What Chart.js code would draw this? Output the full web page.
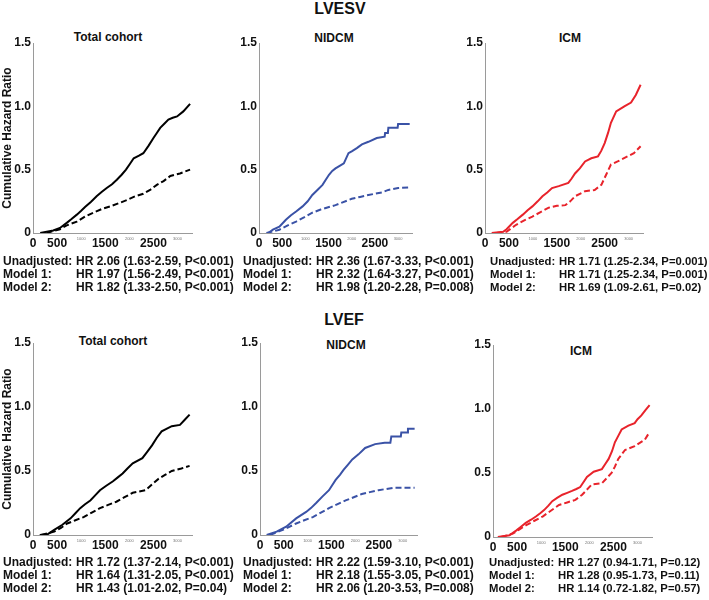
<!DOCTYPE html>
<html>
<head>
<meta charset="utf-8">
<script src="https://cdn.jsdelivr.net/npm/chart.js@4.4.0/dist/chart.umd.min.js"></script>
<style>
body { margin:0; background:#fff; width:709px; height:600px; position:relative; overflow:hidden;
       font-family:"Liberation Sans", Arial, sans-serif; font-weight:bold; color:#111; }
canvas { position:absolute; }
.head { position:absolute; font-size:16px; line-height:18px; width:120px; text-align:center; }
.sub { position:absolute; font-size:12px; line-height:14px; width:120px; text-align:center; }
.stats { position:absolute; font-size:12px; line-height:13px; white-space:nowrap; }
.stats span { display:inline-block; width:73px; }
.stats.narrow { font-size:11.3px; }
.stats.narrow span { width:69px; }
</style>
</head>
<body>
<div class="head" style="left:280px;top:0px">LVESV</div>
<div class="head" style="left:284px;top:311px">LVEF</div>

<div class="sub" style="left:48px;top:30px">Total cohort</div>
<div class="sub" style="left:274px;top:31px">NIDCM</div>
<div class="sub" style="left:510px;top:31px">ICM</div>
<div class="sub" style="left:53px;top:334px">Total cohort</div>
<div class="sub" style="left:286px;top:338px">NIDCM</div>
<div class="sub" style="left:521px;top:344px">ICM</div>

<canvas id="c1"></canvas><canvas id="c2"></canvas><canvas id="c3"></canvas>
<canvas id="c4"></canvas><canvas id="c5"></canvas><canvas id="c6"></canvas>

<div class="stats" style="left:3px;top:255px">
<div><span>Unadjusted:</span>HR 2.06 (1.63-2.59, P&lt;0.001)</div>
<div><span>Model 1:</span>HR 1.97 (1.56-2.49, P&lt;0.001)</div>
<div><span>Model 2:</span>HR 1.82 (1.33-2.50, P&lt;0.001)</div>
</div>
<div class="stats" style="left:243px;top:255px">
<div><span>Unadjusted:</span>HR 2.36 (1.67-3.33, P&lt;0.001)</div>
<div><span>Model 1:</span>HR 2.32 (1.64-3.27, P&lt;0.001)</div>
<div><span>Model 2:</span>HR 1.98 (1.20-2.28, P=0.008)</div>
</div>
<div class="stats narrow" style="left:490px;top:255px">
<div><span>Unadjusted:</span>HR 1.71 (1.25-2.34, P=0.001)</div>
<div><span>Model 1:</span>HR 1.71 (1.25-2.34, P=0.001)</div>
<div><span>Model 2:</span>HR 1.69 (1.09-2.61, P=0.02)</div>
</div>
<div class="stats" style="left:3px;top:556px">
<div><span>Unadjusted:</span>HR 1.72 (1.37-2.14, P&lt;0.001)</div>
<div><span>Model 1:</span>HR 1.64 (1.31-2.05, P&lt;0.001)</div>
<div><span>Model 2:</span>HR 1.43 (1.01-2.02, P=0.04)</div>
</div>
<div class="stats" style="left:243px;top:556px">
<div><span>Unadjusted:</span>HR 2.22 (1.59-3.10, P&lt;0.001)</div>
<div><span>Model 1:</span>HR 2.18 (1.55-3.05, P&lt;0.001)</div>
<div><span>Model 2:</span>HR 2.06 (1.20-3.53, P=0.008)</div>
</div>
<div class="stats narrow" style="left:489px;top:556px">
<div><span>Unadjusted:</span>HR 1.27 (0.94-1.71, P=0.12)</div>
<div><span>Model 1:</span>HR 1.28 (0.95-1.73, P=0.11)</div>
<div><span>Model 2:</span>HR 1.14 (0.72-1.82, P=0.57)</div>
</div>

<script>
// tick labels
var xTicks = [0, 500, 1000, 1500, 2000, 2500, 3000];
var yTicks = [0, 0.5, 1, 1.5];

// LVESV - total cohort
var esvTotalSolidX = [150, 420, 560, 700, 800, 910, 1000, 1080, 1200, 1320, 1430, 1530, 1640, 1740, 1840, 1930, 2010, 2090, 2200, 2290, 2400, 2500, 2570, 2640, 2730, 2810, 2900, 2990, 3120, 3260];
var esvTotalSolidY = [0, 0.02, 0.04, 0.08, 0.11, 0.145, 0.175, 0.205, 0.245, 0.29, 0.325, 0.355, 0.385, 0.42, 0.46, 0.50, 0.545, 0.59, 0.61, 0.63, 0.69, 0.75, 0.79, 0.83, 0.865, 0.895, 0.91, 0.92, 0.96, 1.02];
var esvTotalDashX = [280, 420, 560, 700, 910, 1080, 1250, 1430, 1600, 1780, 1950, 2120, 2290, 2430, 2570, 2710, 2850, 3050, 3260];
var esvTotalDashY = [0, 0.015, 0.03, 0.06, 0.09, 0.13, 0.16, 0.19, 0.21, 0.235, 0.26, 0.29, 0.31, 0.34, 0.38, 0.41, 0.45, 0.47, 0.50];

// LVESV - NIDCM
var esvNidcmSolidX = [200, 300, 440, 580, 690, 800, 940, 1050, 1150, 1260, 1370, 1440, 1510, 1580, 1650, 1740, 1830, 1930, 2000, 2110, 2220, 2360, 2540, 2710, 2720, 2780, 2790, 2990, 3000, 3250];
var esvNidcmSolidY = [0, 0.026, 0.05, 0.105, 0.14, 0.17, 0.21, 0.25, 0.30, 0.34, 0.38, 0.42, 0.46, 0.49, 0.51, 0.53, 0.55, 0.63, 0.645, 0.67, 0.70, 0.72, 0.75, 0.76, 0.79, 0.79, 0.83, 0.83, 0.86, 0.86];
var esvNidcmDashX = [160, 300, 440, 620, 800, 980, 1150, 1330, 1510, 1650, 1790, 2000, 2180, 2360, 2500, 2650, 2790, 3000, 3250];
var esvNidcmDashY = [0, 0.012, 0.026, 0.06, 0.09, 0.125, 0.16, 0.185, 0.205, 0.22, 0.24, 0.27, 0.285, 0.30, 0.31, 0.32, 0.34, 0.355, 0.36];

// LVESV - ICM
var esvIcmSolidX = [140, 380, 450, 580, 680, 790, 890, 990, 1100, 1200, 1300, 1400, 1540, 1740, 1810, 1880, 1980, 2090, 2220, 2360, 2430, 2500, 2570, 2630, 2740, 2910, 3050, 3150, 3250];
var esvIcmSolidY = [0, 0.01, 0.03, 0.08, 0.11, 0.145, 0.18, 0.21, 0.25, 0.29, 0.32, 0.355, 0.37, 0.395, 0.43, 0.47, 0.51, 0.565, 0.59, 0.605, 0.65, 0.71, 0.79, 0.87, 0.96, 1.0, 1.03, 1.09, 1.17];
var esvIcmDashX = [240, 450, 650, 820, 990, 1160, 1330, 1500, 1680, 1780, 1880, 2090, 2290, 2430, 2530, 2630, 2770, 2980, 3110, 3250];
var esvIcmDashY = [0, 0.01, 0.065, 0.10, 0.13, 0.165, 0.20, 0.215, 0.22, 0.25, 0.29, 0.33, 0.34, 0.38, 0.46, 0.54, 0.565, 0.605, 0.63, 0.685];

// LVEF - total cohort
var efTotalSolidX = [140, 300, 440, 610, 780, 880, 980, 1080, 1190, 1290, 1390, 1520, 1660, 1760, 1860, 1960, 2070, 2270, 2370, 2470, 2570, 2670, 2880, 3050, 3150, 3250];
var efTotalSolidY = [0, 0.005, 0.04, 0.08, 0.13, 0.17, 0.21, 0.24, 0.27, 0.31, 0.35, 0.385, 0.42, 0.45, 0.48, 0.52, 0.56, 0.60, 0.65, 0.70, 0.76, 0.81, 0.85, 0.86, 0.90, 0.94];
var efTotalDashX = [170, 440, 580, 710, 880, 1050, 1220, 1390, 1560, 1730, 1900, 2070, 2340, 2470, 2610, 2740, 2880, 3080, 3250];
var efTotalDashY = [0, 0.026, 0.055, 0.09, 0.115, 0.14, 0.175, 0.21, 0.235, 0.26, 0.295, 0.33, 0.35, 0.395, 0.44, 0.47, 0.50, 0.52, 0.54];

// LVEF - NIDCM
var efNidcmSolidX = [140, 350, 550, 760, 970, 1070, 1180, 1310, 1450, 1590, 1680, 1760, 1850, 1940, 2070, 2210, 2420, 2620, 2740, 2760, 2960, 2970, 3100, 3110, 3250];
var efNidcmSolidY = [0, 0.026, 0.065, 0.13, 0.18, 0.21, 0.25, 0.30, 0.35, 0.43, 0.47, 0.51, 0.55, 0.59, 0.63, 0.68, 0.71, 0.72, 0.72, 0.77, 0.77, 0.80, 0.80, 0.83, 0.83];
var efNidcmDashX = [210, 480, 760, 930, 1110, 1280, 1450, 1620, 1800, 1970, 2140, 2310, 2490, 2660, 2830, 3040, 3250];
var efNidcmDashY = [0, 0.04, 0.09, 0.115, 0.14, 0.175, 0.21, 0.24, 0.27, 0.295, 0.32, 0.335, 0.35, 0.36, 0.37, 0.37, 0.37];

// LVEF - ICM
var efIcmSolidX = [100, 340, 480, 580, 680, 790, 890, 980, 1060, 1150, 1230, 1330, 1440, 1540, 1640, 1730, 1810, 1880, 1950, 2090, 2260, 2330, 2400, 2470, 2530, 2600, 2670, 2810, 2940, 3000, 3080, 3160, 3250];
var efIcmSolidY = [0, 0.013, 0.05, 0.08, 0.11, 0.135, 0.16, 0.185, 0.21, 0.245, 0.28, 0.305, 0.33, 0.345, 0.36, 0.375, 0.39, 0.43, 0.47, 0.51, 0.53, 0.57, 0.61, 0.67, 0.74, 0.79, 0.84, 0.87, 0.89, 0.92, 0.95, 0.99, 1.03];
var efIcmDashX = [170, 410, 550, 680, 850, 1030, 1200, 1370, 1540, 1710, 1850, 2050, 2260, 2360, 2460, 2530, 2600, 2740, 2940, 3150, 3250];
var efIcmDashY = [0, 0.026, 0.06, 0.09, 0.125, 0.16, 0.205, 0.25, 0.27, 0.29, 0.33, 0.41, 0.42, 0.46, 0.50, 0.55, 0.61, 0.68, 0.71, 0.76, 0.82];

var FONT = '"Liberation Sans", Arial, sans-serif';

function pts(xs, ys) {
  return xs.map(function (x, i) { return { x: x, y: ys[i] }; });
}

// the 1000 / 2000 / 3000 labels are printed tiny in the original
function minorTick(c) {
  var v = xTicks[c.index];
  return v > 0 && v % 1000 === 0;
}

// box = [left, right, top, bottom] of the plot area on the page
function panel(id, box, color, sx, sy, dx, dy, yTitle) {
  var yw = yTitle ? 33 : 30;
  var cv = document.getElementById(id);
  cv.width = yw + box[1] - box[0] + 6;
  cv.height = 8 + box[3] - box[2] + 22;
  cv.style.left = (box[0] - yw) + 'px';
  cv.style.top = (box[2] - 8) + 'px';

  new Chart(cv, {
    type: 'line',
    data: {
      datasets: [{
        data: pts(sx, sy),
        borderColor: color,
        borderWidth: 2,
        pointRadius: 0
      }, {
        data: pts(dx, dy),
        borderColor: color,
        borderWidth: 2,
        borderDash: [6, 3],
        pointRadius: 0
      }]
    },
    options: {
      responsive: false,
      animation: false,
      events: [],
      layout: { padding: { top: 8, right: 6, left: 0, bottom: 0 } },
      plugins: { legend: { display: false }, tooltip: { enabled: false } },
      scales: {
        x: {
          type: 'linear', min: 0, max: 3300,
          afterBuildTicks: function (s) { s.ticks = xTicks.map(function (v) { return { value: v }; }); },
          afterFit: function (s) { s.height = 22; s.paddingLeft = 0; s.paddingRight = 0; },
          grid: { display: false, drawTicks: false },
          border: { color: '#9a9a9a', width: 1 },
          ticks: {
            autoSkip: false, maxRotation: 0, padding: 3,
            callback: function (v) { return String(v); },
            color: function (c) { return minorTick(c) ? '#777' : '#111'; },
            font: function (c) {
              return minorTick(c)
                ? { family: FONT, size: 4 }
                : { family: FONT, size: 12, weight: 'bold' };
            }
          }
        },
        y: {
          min: 0, max: 1.5,
          afterBuildTicks: function (s) { s.ticks = yTicks.map(function (v) { return { value: v }; }); },
          afterFit: function (s) { s.width = yw; s.paddingTop = 0; s.paddingBottom = 0; },
          grid: { display: false, drawTicks: false },
          border: { color: '#9a9a9a', width: 1 },
          ticks: {
            padding: 2, color: '#111',
            font: { family: FONT, size: 12, weight: 'bold' },
            callback: function (v) { return v === 0 ? '0' : v.toFixed(1); }
          },
          title: {
            display: yTitle, text: 'Cumulative Hazard Ratio', color: '#111',
            font: { family: FONT, size: 12, weight: 'bold' }, padding: 0
          }
        }
      }
    }
  });
}

panel('c1', [33, 192, 43, 233], '#000000', esvTotalSolidX, esvTotalSolidY, esvTotalDashX, esvTotalDashY, true);
panel('c2', [259, 412, 43, 233], '#3a52a6', esvNidcmSolidX, esvNidcmSolidY, esvNidcmDashX, esvNidcmDashY, false);
panel('c3', [485, 643, 43, 233], '#e8232b', esvIcmSolidX, esvIcmSolidY, esvIcmDashX, esvIcmDashY, false);
panel('c4', [33, 192, 343, 535], '#000000', efTotalSolidX, efTotalSolidY, efTotalDashX, efTotalDashY, true);
panel('c5', [260, 417, 343, 535], '#3a52a6', efNidcmSolidX, efNidcmSolidY, efNidcmDashX, efNidcmDashY, false);
panel('c6', [493, 652, 345, 537], '#e8232b', efIcmSolidX, efIcmSolidY, efIcmDashX, efIcmDashY, false);
</script>
</body>
</html>
